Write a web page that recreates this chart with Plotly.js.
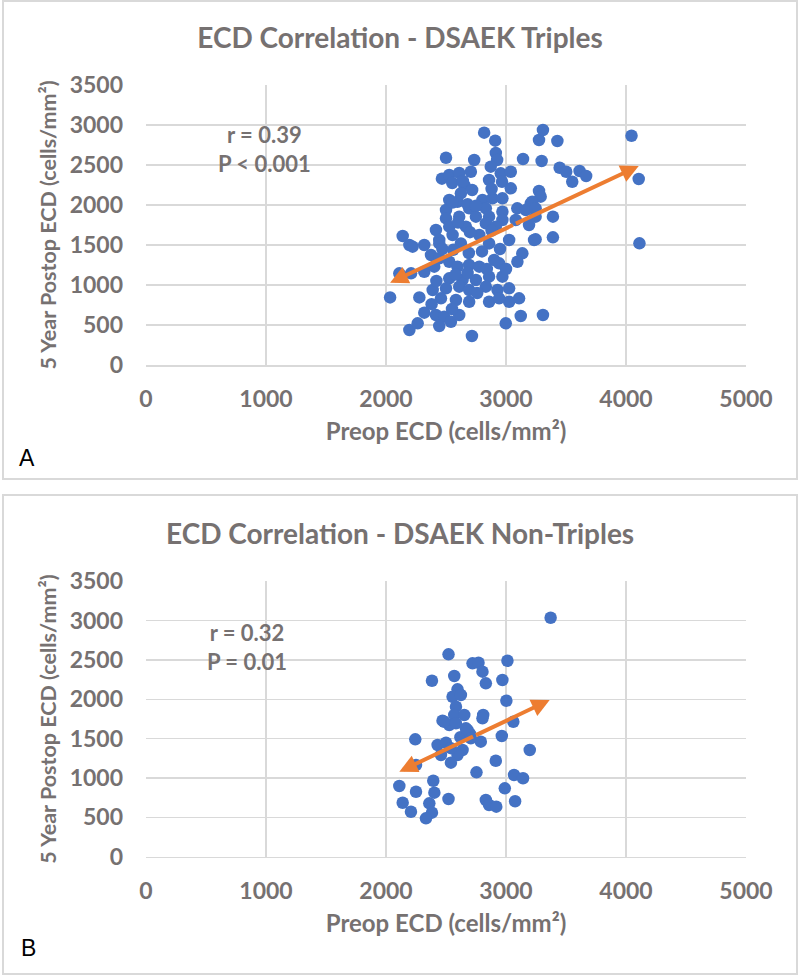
<!DOCTYPE html>
<html><head><meta charset="utf-8">
<script src="https://cdn.plot.ly/plotly-3.0.1.min.js"></script>
<style>html,body{margin:0;padding:0;background:#fff}</style>
</head><body><div id="chart" style="width:800px;height:976px"></div>
<script>
// ---- Data ----
const titleA = "ECD Correlation - DSAEK Triples";
const titleB = "ECD Correlation - DSAEK Non-Triples";
const xTitle = "Preop ECD (cells/mm²)";
const yTitle = "5 Year Postop ECD (cells/mm²)";
const statsA = ["r = 0.39", "P < 0.001"];
const statsB = ["r = 0.32", "P = 0.01"];
const xTicks = [0, 1000, 2000, 3000, 4000, 5000];
const yTicks = [0, 500, 1000, 1500, 2000, 2500, 3000, 3500];

const preopA = [2818,2910,2915,2926,2500,2735,3142,3275,3308,3428,4046,2466,2527,2610,2707,2873,2859,2956,3040,2967,
  2552,2652,2718,2624,3040,3275,2527,2596,2804,2887,2970,3206,3094,2500,2693,2832,2970,3165,2500,2610,
  2749,2859,2970,3081,3247,2416,2527,2666,2832,2915,2444,2555,2777,2859,3026,3234,2139,2195,2319,2624,
  2222,2444,2111,2209,2319,2402,2375,2444,2527,2596,2693,2777,2901,2943,3136,3095,2527,2638,2749,2859,
  2970,2389,2500,2610,2693,2832,2929,3026,3109,3026,2458,2583,2693,2859,2943,2034,2278,2319,2416,2485,
  2541,2444,2195,2264,2610,2998,3123,2716,3308,3297,3447,3502,3552,3613,3668,4106,3289,3219,3247,3391,
  3192,3247,3391,4112,2555,2680,2750,2600,2700,2880,2470,2560,2690,2800,2950,2580,2680,2840,3000,2420,
  2760,2550,2380,2880,2640];
const postopA = [2904,2804,2650,2562,2591,2562,2575,2812,2937,2800,2866,2329,2375,2400,2416,2479,2312,2396,2416,2291,
  2275,2250,2187,2146,2208,2175,2062,2041,2062,2083,2083,2021,1958,1937,1958,1958,1916,1937,1833,1854,
  1854,1854,1812,1812,1854,1687,1729,1729,1770,1729,1562,1625,1625,1520,1562,1562,1612,1500,1500,1520,
  1479,1520,1146,1146,1166,1229,1375,1333,1291,1229,1250,1229,1312,1271,1396,1291,1083,1062,1062,1104,
  1104,937,958,979,937,979,937,958,833,791,833,812,791,791,833,845,845,654,625,604,
  541,487,437,521,625,521,612,362,625,2550,2466,2416,2291,2425,2362,2325,2104,2041,1958,1854,
  1750,1571,1596,1521,2030,2010,1990,1780,1660,1680,1450,1440,1400,1420,1450,1130,1150,1200,1200,1050,
  900,700,760,2200,2300];

const preopB = [3372,2521,2383,2569,2721,2771,2804,2832,3012,2970,3003,2596,2555,2624,2583,2569,2652,2810,2804,2471,
  2527,3061,2485,2583,2680,2244,2430,2500,2458,2638,2596,2790,2965,3198,2541,2250,2754,2915,3067,3142,
  2111,2394,2250,2403,2990,2139,2208,2361,2383,2333,2521,2832,2859,2919,3076,2620,2700,2540,2666,2707];
const postopB = [3038,2573,2237,2297,2458,2466,2352,2204,2491,2246,1983,2128,2034,2056,1907,1801,1801,1801,1759,1729,
  1674,1716,1716,1696,1610,1492,1420,1449,1293,1356,1293,1462,1534,1356,1195,1166,1073,1220,1039,997,
  899,966,826,814,869,686,572,678,560,488,733,721,657,636,705,1520,1560,1380,1632,1505];

// trend lines (end points, arrows at both ends)
const trendA_x = [2034, 4106];
const trendA_y = [1029, 2487];
const trendB_x = [2111, 3364];
const trendB_y = [1081, 1992];

// ---- Styles / layout ----
const W = 800, H = 976;
const px = v => v / W;           // pixel -> paper x
const py = v => 1 - v / H;       // pixel -> paper y
const FONT = "Lato, 'Open Sans', sans-serif";
const GRAY = "#767171";
const BLUE = "#4472C4";
const ORANGE = "#ED7D31";
const GRID = "#d9d9d9";

const marker = {color: BLUE, size: 12.5, line: {width: 0}};
const traces = [
  {type: "scatter", mode: "markers", x: preopA, y: postopA, xaxis: "x", yaxis: "y", marker: marker, hoverinfo: "skip"},
  {type: "scatter", mode: "markers", x: preopB, y: postopB, xaxis: "x2", yaxis: "y2", marker: marker, hoverinfo: "skip"}
];

function xaxisDef() {
  return {
    domain: [px(146), px(746)], range: [0, 5000], tickvals: xTicks, ticktext: xTicks.map(String),
    showgrid: true, gridcolor: GRID, gridwidth: 1.5, zeroline: false,
    showline: true, linecolor: GRID, linewidth: 1.5, ticks: "", ticklabelstandoff: 13,
    tickfont: {family: FONT, size: 23, color: GRAY, weight: "bold"},
    title: {text: xTitle, font: {family: FONT, size: 24, color: GRAY, weight: "bold"}, standoff: 12},
    fixedrange: true
  };
}
function yaxisDef(domain) {
  return {
    domain: domain, range: [0, 3500], tickvals: yTicks, ticktext: yTicks.map(String),
    showgrid: true, gridcolor: GRID, gridwidth: 1.5, zeroline: false,
    showline: false, ticks: "", ticklabelstandoff: 22,
    tickfont: {family: FONT, size: 23, color: GRAY, weight: "bold"},
    title: {text: yTitle, font: {family: FONT, size: 21.5, color: GRAY, weight: "bold"}, standoff: 7},
    fixedrange: true
  };
}

function arrowPair(xs, ys, xr, yr) {
  const mx = (xs[0] + xs[1]) / 2, my = (ys[0] + ys[1]) / 2;
  const base = {xref: xr, yref: yr, axref: xr, ayref: yr, text: "", showarrow: true,
    arrowhead: 2, arrowsize: 0.9, arrowwidth: 4, arrowcolor: ORANGE, standoff: 0, startstandoff: 0};
  return [
    Object.assign({}, base, {x: xs[1], y: ys[1], ax: mx, ay: my}),
    Object.assign({}, base, {x: xs[0], y: ys[0], ax: mx, ay: my})
  ];
}

const statFont = {family: FONT, size: 22, color: GRAY, weight: "bold"};
const annotations = [
  {xref: "paper", yref: "paper", x: 0.5, y: py(533), text: titleB, showarrow: false,
   font: {family: FONT, size: 28, color: GRAY, weight: "bold"}, xanchor: "center", yanchor: "middle"},
  {xref: "x", yref: "y", x: 990, y: 2700, text: statsA.join("<br>"), showarrow: false, font: statFont, align: "center"},
  {xref: "x2", yref: "y2", x: 840, y: 2670, text: statsB.join("<br>"), showarrow: false, font: statFont, align: "center"},
  {xref: "paper", yref: "paper", x: px(27), y: py(458), text: "A", showarrow: false,
   font: {family: "Liberation Sans, Arial, sans-serif", size: 23, color: "#000"}, xanchor: "center", yanchor: "middle"},
  {xref: "paper", yref: "paper", x: px(28), y: py(948), text: "B", showarrow: false,
   font: {family: "Liberation Sans, Arial, sans-serif", size: 23, color: "#000"}, xanchor: "center", yanchor: "middle"}
].concat(arrowPair(trendA_x, trendA_y, "x", "y"), arrowPair(trendB_x, trendB_y, "x2", "y2"));

const shapes = [
  {type: "rect", xref: "paper", yref: "paper", x0: px(3), x1: px(797), y0: py(479), y1: py(1), line: {color: GRID, width: 2}},
  {type: "rect", xref: "paper", yref: "paper", x0: px(3), x1: px(797), y0: py(974), y1: py(495), line: {color: GRID, width: 2}}
];

const layout = {
  width: W, height: H, margin: {l: 0, r: 0, t: 0, b: 0},
  paper_bgcolor: "#fff", plot_bgcolor: "#fff", showlegend: false,
  title: {text: titleA, x: 0.5, xref: "paper", xanchor: "center", y: py(38), yref: "paper", yanchor: "middle",
          font: {family: FONT, size: 28, color: GRAY, weight: "bold"}},
  xaxis: Object.assign(xaxisDef(), {anchor: "y"}),
  yaxis: Object.assign(yaxisDef([py(365), py(85)]), {anchor: "x"}),
  xaxis2: Object.assign(xaxisDef(), {anchor: "y2"}),
  yaxis2: Object.assign(yaxisDef([py(856.7), py(581.4)]), {anchor: "x2"}),
  annotations: annotations, shapes: shapes
};

Plotly.newPlot("chart", traces, layout, {staticPlot: true, displayModeBar: false});
</script></body></html>
